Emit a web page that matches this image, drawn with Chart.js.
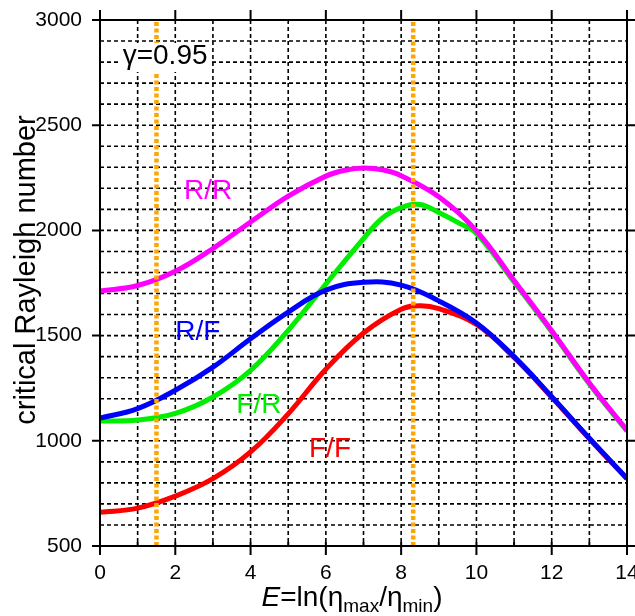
<!DOCTYPE html>
<html>
<head>
<meta charset="utf-8">
<script src="https://cdn.jsdelivr.net/npm/chart.js@4/dist/chart.umd.min.js"></script>
<style>
  html, body { margin: 0; padding: 0; background: #fff; }
</style>
</head>
<body>
<canvas id="chart" width="635" height="616"></canvas>
<script>
// E = ln(eta_max/eta_min) values and critical Rayleigh numbers
const rrE = [0, 1, 2, 3, 4, 5, 6, 6.5, 7, 7.5, 8, 9, 10, 11, 12, 13, 14];
const rrRa = [1712, 1738, 1806, 1914, 2040, 2163, 2258, 2286, 2297, 2288, 2260, 2160, 1998, 1762, 1523, 1275, 1050];

const frE = [0, 1, 2, 3, 4, 5, 6, 7, 7.5, 8, 8.5, 9, 9.5, 10, 11, 12, 13, 14];
const frRa = [1094, 1099, 1130, 1208, 1335, 1525, 1745, 1961, 2058, 2108, 2123, 2085, 2038, 1985, 1755, 1518, 1270, 1046];

const rfE = [0, 1, 2, 3, 4, 5, 6, 7, 8, 9, 10, 11, 12, 13, 14];
const rfRa = [1108, 1153, 1240, 1350, 1485, 1612, 1716, 1753, 1740, 1665, 1560, 1400, 1210, 1012, 821];

const ffE = [0, 1, 2, 3, 4, 5, 6, 7, 8, 8.5, 9, 10, 11, 12, 13, 14];
const ffRa = [660, 680, 737, 820, 947, 1128, 1340, 1512, 1625, 1642, 1628, 1553, 1396, 1207, 1010, 819];

// dotted orange markers
const markerE = [1.5, 8.32];

const yMin = 500, yMax = 3000;
const font = "'Liberation Sans', Arial, sans-serif";

const pts = (xs, ys) => xs.map((v, i) => ({ x: v, y: ys[i] }));

function curve(label, xs, ys, color, order) {
    return {
        label,
        data: pts(xs, ys),
        borderColor: color,
        borderWidth: 5,
        pointRadius: 0,
        tension: 0.4,
        fill: false,
        order
    };
}

const markers = markerE.map(e => ({
    label: 'E=' + e,
    data: [{ x: e, y: yMin }, { x: e, y: yMax }],
    borderColor: '#ffa500',
    borderWidth: 4.5,
    borderDash: [4, 2.5],
    pointRadius: 0,
    fill: false,
    order: 0
}));

// grid, frame, tick marks, titles and curve labels
const decor = {
    id: 'decor',
    beforeDatasetsDraw(chart) {
        const { ctx, chartArea: a, scales: { x, y } } = chart;
        ctx.save();
        ctx.strokeStyle = '#000';
        ctx.lineWidth = 1.6;
        ctx.setLineDash([4, 3]);
        x.ticks.forEach(t => {
            if (t.value <= x.min || t.value >= x.max) return;
            const px = x.getPixelForValue(t.value);
            ctx.beginPath(); ctx.moveTo(px, a.top); ctx.lineTo(px, a.bottom); ctx.stroke();
        });
        y.ticks.forEach(t => {
            if (t.value <= y.min || t.value >= y.max) return;
            const py = y.getPixelForValue(t.value);
            ctx.beginPath(); ctx.moveTo(a.left, py); ctx.lineTo(a.right, py); ctx.stroke();
        });
        ctx.restore();
    },
    afterDatasetsDraw(chart) {
        const { ctx, chartArea: a, scales: { x, y } } = chart;
        ctx.save();

        // frame
        ctx.strokeStyle = '#000';
        ctx.lineWidth = 2;
        ctx.strokeRect(a.left, a.top, a.right - a.left, a.bottom - a.top);

        // tick marks
        ctx.beginPath();
        x.ticks.forEach(t => {
            const px = x.getPixelForValue(t.value);
            if (t.value % 2 === 0) {
                ctx.moveTo(px, a.bottom - 4); ctx.lineTo(px, a.bottom + 9);
                ctx.moveTo(px, a.top); ctx.lineTo(px, a.top - 10);
            } else {
                ctx.moveTo(px, a.bottom - 4); ctx.lineTo(px, a.bottom);
            }
        });
        y.ticks.forEach(t => {
            if (t.value % 500 !== 0) return;
            const py = y.getPixelForValue(t.value);
            ctx.moveTo(a.left - 8, py); ctx.lineTo(a.left, py);
            ctx.moveTo(a.right, py); ctx.lineTo(a.right + 8, py);
        });
        ctx.stroke();

        // curve labels
        ctx.textAlign = 'center';
        ctx.textBaseline = 'middle';
        ctx.font = '28px ' + font;
        const labels = [
            ['R/R', '#ff00ff', 2.87, 2187],
            ['R/F', '#0000ff', 2.60, 1516],
            ['F/R', '#00ee00', 4.22, 1169],
            ['F/F', '#ff0000', 6.11, 960]
        ];
        labels.forEach(([txt, col, ex, ra]) => {
            ctx.fillStyle = col;
            ctx.fillText(txt, x.getPixelForValue(ex), y.getPixelForValue(ra));
        });

        // gamma note with white box
        const gx = x.getPixelForValue(1.73), gy = y.getPixelForValue(2829);
        const gw = ctx.measureText('\u03b3=0.95').width;
        ctx.fillStyle = '#fff';
        ctx.fillRect(gx - gw / 2 - 4, gy - 13, gw + 8, 29);
        ctx.fillStyle = '#000';
        ctx.fillText('\u03b3=0.95', gx, gy);

        // y title
        ctx.save();
        ctx.translate(27, (a.top + a.bottom) / 2 - 13);
        ctx.rotate(-Math.PI / 2);
        ctx.font = '29px ' + font;
        ctx.fillStyle = '#000';
        ctx.fillText('critical Rayleigh number', 0, 0);
        ctx.restore();

        // x title: E=ln(eta_max/eta_min)
        const big = '28px ' + font, ital = 'italic 28px ' + font, small = '19px ' + font;
        const parts = [
            ['E', ital, 0], ['=ln(\u03b7', big, 0], ['max', small, 6],
            ['/\u03b7', big, 0], ['min', small, 6], [')', big, 0]
        ];
        let total = 0;
        parts.forEach(p => { ctx.font = p[1]; total += ctx.measureText(p[0]).width; });
        let cx = 352 - total / 2;
        ctx.textAlign = 'left';
        ctx.textBaseline = 'alphabetic';
        parts.forEach(([s, f, dy]) => {
            ctx.font = f;
            ctx.fillText(s, cx, 606 + dy);
            cx += ctx.measureText(s).width;
        });

        ctx.restore();
    }
};

const chart = new Chart(document.getElementById('chart').getContext('2d'), {
    type: 'line',
    data: {
        datasets: [
            curve('R/R', rrE, rrRa, '#ff00ff', 1),
            curve('R/F', rfE, rfRa, '#0000ff', 2),
            curve('F/R', frE, frRa, '#00ee00', 3),
            curve('F/F', ffE, ffRa, '#ff0000', 4),
            ...markers
        ]
    },
    options: {
        responsive: false,
        animation: false,
        devicePixelRatio: 1,
        layout: { padding: { left: 0, top: 20, right: 8, bottom: 0 } },
        plugins: { legend: { display: false }, tooltip: { enabled: false } },
        scales: {
            x: {
                type: 'linear',
                min: 0,
                max: 14,
                grid: { display: false, drawTicks: false },
                border: { display: false },
                ticks: {
                    stepSize: 1,
                    autoSkip: false,
                    maxRotation: 0,
                    padding: 15,
                    color: '#000',
                    font: { family: font, size: 21 },
                    callback: v => (v % 2 === 0 ? v : '')
                },
                afterFit(s) { s.height = 70; s.paddingLeft = 0; s.paddingRight = 0; }
            },
            y: {
                min: yMin,
                max: yMax,
                grid: { display: false, drawTicks: false },
                border: { display: false },
                ticks: {
                    stepSize: 100,
                    autoSkip: false,
                    padding: 18,
                    color: '#000',
                    font: { family: font, size: 21 },
                    callback: v => (v % 500 === 0 ? v : '')
                },
                afterFit(s) { s.width = 100; s.paddingTop = 0; s.paddingBottom = 0; }
            }
        }
    },
    plugins: [decor]
});
</script>
</body>
</html>
